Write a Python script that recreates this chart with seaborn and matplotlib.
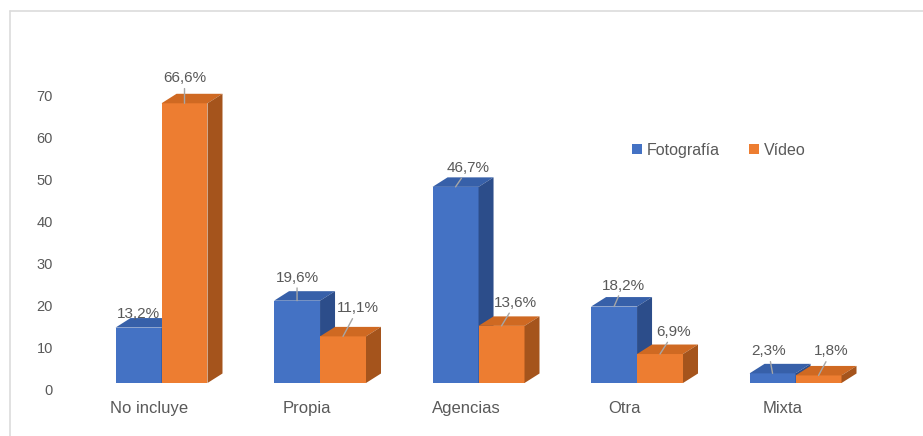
import matplotlib
matplotlib.use("Agg")
import matplotlib.pyplot as plt
from matplotlib.patches import Polygon, Patch
from matplotlib.lines import Line2D
import seaborn as sns
import pandas as pd
import numpy as np

# -------------------------------
# Data
# -------------------------------
categories = ["No incluye", "Propia", "Agencias", "Otra", "Mixta"]
series = ["Fotografía", "Vídeo"]
foto = [13.2, 19.6, 46.7, 18.2, 2.3]
video = [66.6, 11.1, 13.6, 6.9, 1.8]
yticks = [0, 10, 20, 30, 40, 50, 60, 70]

# -------------------------------
# Styles
# -------------------------------
front = {"Fotografía": "#4472C4", "Vídeo": "#ED7D31"}
top_col = {"Fotografía": "#3760a9", "Vídeo": "#cf6922"}
side_col = {"Fotografía": "#2c4d8a", "Vídeo": "#a5541c"}
text_col = "#595959"
# label offsets (pixels) from the top of each front face
label_offsets = {
    "Fotografía": [(0, 14), (0, 23), (13, 19), (9, 21), (-4, 22)],
    "Vídeo": [(0, 25), (15, 28), (14, 23), (14, 22), (13, 24)],
}

df = pd.DataFrame({
    "cat": categories * 2,
    "serie": [series[0]] * len(categories) + [series[1]] * len(categories),
    "valor": foto + video,
})

sns.set_theme(style="white")
plt.rcParams["font.family"] = ["Liberation Sans", "DejaVu Sans"]

W, H = 923, 436
fig = plt.figure(figsize=(W / 100, H / 100), dpi=100)
ax = fig.add_axes([65 / W, (H - 395) / H, (900 - 65) / W, (395 - 20) / H])

sns.barplot(data=df, x="cat", y="valor", hue="serie", order=categories,
            hue_order=series, palette=front, width=0.58, saturation=1,
            errorbar=None, legend=False, linewidth=0, ax=ax)

ax.set_xlim(-0.609, 4.659)
ax.set_ylim(-2.857, 86.43)

# depth of the fake 3D bars, in data units
px_x = (900 - 65) / (4.659 + 0.609)
px_y = (395 - 20) / (86.43 + 2.857)
dx = 15 / px_x
dy = 9.5 / px_y

for k, (name, cont) in enumerate(zip(series, ax.containers)):
    for i, bar in enumerate(cont):
        bar.set_zorder(2 + k)
        x0, w, h = bar.get_x(), bar.get_width(), bar.get_height()
        top = Polygon([(x0, h), (x0 + dx, h + dy), (x0 + w + dx, h + dy), (x0 + w, h)],
                      closed=True, facecolor=top_col[name], edgecolor="none", zorder=2 + k)
        side = Polygon([(x0 + w, 0), (x0 + w + dx, dy), (x0 + w + dx, h + dy), (x0 + w, h)],
                       closed=True, facecolor=side_col[name], edgecolor="none", zorder=2 + k)
        ax.add_patch(top)
        ax.add_patch(side)

        off = label_offsets[name][i]
        txt = f"{h:.1f}".replace(".", ",") + "%"
        arrow = None
        if off[1] > 16:
            arrow = dict(arrowstyle="-", color="#a6a6a6", lw=1, shrinkA=0, shrinkB=0)
        ax.annotate(txt, xy=(x0 + w / 2, h), xytext=off, textcoords="offset pixels",
                    ha="center", va="center", fontsize=11, color=text_col,
                    arrowprops=arrow, zorder=6)

# -------------------------------
# Axes
# -------------------------------
tick_shift = 6 / px_y
ax.set_yticks(np.array(yticks) - tick_shift)
ax.set_yticklabels([str(t) for t in yticks])
ax.set_xticks(np.arange(len(categories)) - 0.08)
ax.set_xticklabels(categories)
ax.tick_params(axis="y", length=0, pad=8.6, labelsize=10.5, labelcolor=text_col)
ax.tick_params(axis="x", length=0, pad=4.5, labelsize=12, labelcolor=text_col)
ax.set_xlabel("")
ax.set_ylabel("")
sns.despine(ax=ax, left=True, bottom=True)

handles = [Patch(facecolor=front[s], edgecolor="none", label=s) for s in series]
fig.legend(handles=handles, loc="center", bbox_to_anchor=(719 / W, 1 - 150 / H),
           ncol=2, frameon=False, fontsize=11.5, handlelength=0.65, handleheight=0.65,
           handletextpad=0.3, columnspacing=1.8, labelcolor=text_col)

# thin frame around the chart
fig.add_artist(Line2D([10 / W, 10 / W], [0, 1 - 11 / H], transform=fig.transFigure,
                      color="#dcdcdc", lw=1.2))
fig.add_artist(Line2D([10 / W, 1], [1 - 11 / H, 1 - 11 / H], transform=fig.transFigure,
                      color="#dcdcdc", lw=1.2))

fig.savefig("out.png", dpi=100)
